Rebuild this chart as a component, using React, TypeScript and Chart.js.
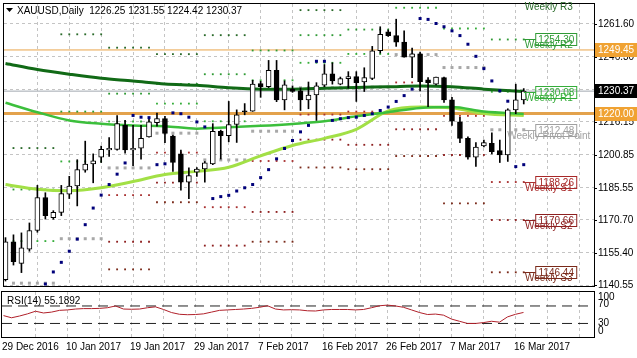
import React, { useEffect, useRef } from 'react';
import { Chart, registerables } from 'chart.js';

Chart.register(...registerables);

const FONT = '10px "Liberation Sans", Arial, sans-serif';

// ---------------- data ----------------
const symbolTitle = 'XAUUSD,Daily';

const opens = [
  1143.0, 1160.6, 1150.6, 1157.1, 1165.8, 1181.1, 1171.7, 1174.2, 1182.6, 1186.4,
  1193.7, 1196.6, 1199.8, 1203.1, 1203.4, 1214.5, 1203.1, 1203.9, 1209.2, 1215.8,
  1217.6, 1209.5, 1201.3, 1188.2, 1192.8, 1194.3, 1196.7, 1211.8, 1209.7, 1214.9,
  1221.0, 1221.1, 1233.9, 1232.4, 1240.0, 1226.3, 1231.3, 1230.5, 1226.3, 1228.6,
  1233.1, 1238.4, 1233.6, 1236.2, 1237.1, 1234.6, 1236.3, 1249.1, 1257.9, 1256.1,
  1253.1, 1246.1, 1247.6, 1235.6, 1233.6, 1236.6, 1226.3, 1216.1, 1208.5, 1199.8,
  1205.0, 1206.2, 1202.8, 1200.8, 1221.7, 1226.25,
];
const highs = [
  1162.5, 1163.8, 1164.7, 1169.3, 1186.7, 1183.3, 1175.0, 1186.7, 1190.9, 1198.6,
  1207.2, 1201.3, 1204.9, 1208.9, 1219.1, 1216.8, 1214.5, 1214.5, 1218.1, 1220.2,
  1218.7, 1210.0, 1203.1, 1194.8, 1194.9, 1197.8, 1215.3, 1212.3, 1225.6, 1221.7,
  1224.6, 1235.4, 1234.9, 1244.6, 1244.6, 1235.1, 1232.8, 1231.8, 1234.6, 1234.3,
  1242.7, 1243.5, 1236.9, 1239.4, 1239.4, 1241.2, 1251.1, 1260.2, 1258.7, 1263.7,
  1258.3, 1250.3, 1248.5, 1236.6, 1236.9, 1236.9, 1227.5, 1218.2, 1209.2, 1206.5,
  1207.7, 1211.0, 1207.7, 1222.2, 1233.6, 1231.55,
];
const lows = [
  1142.4, 1149.8, 1146.3, 1156.2, 1165.0, 1171.1, 1171.0, 1172.7, 1180.6, 1177.2,
  1192.8, 1187.9, 1197.3, 1200.1, 1203.0, 1201.6, 1195.8, 1198.9, 1209.0, 1214.1,
  1206.5, 1193.2, 1184.5, 1180.6, 1190.9, 1188.2, 1196.3, 1198.9, 1206.9, 1206.6,
  1219.4, 1221.0, 1227.5, 1232.0, 1225.5, 1221.7, 1229.8, 1221.4, 1222.2, 1216.8,
  1232.4, 1233.6, 1233.3, 1231.8, 1225.6, 1230.2, 1235.7, 1248.0, 1255.7, 1251.1,
  1246.1, 1236.6, 1230.5, 1223.2, 1233.3, 1225.2, 1214.5, 1206.5, 1198.9, 1195.5,
  1204.5, 1201.3, 1197.3, 1197.8, 1219.9, 1224.42,
];
const closes = [
  1160.6, 1151.4, 1157.8, 1165.8, 1181.1, 1172.7, 1174.2, 1182.9, 1186.4, 1194.0,
  1196.6, 1198.1, 1203.4, 1203.9, 1215.3, 1203.1, 1203.9, 1208.5, 1216.1, 1217.6,
  1210.8, 1197.3, 1188.2, 1191.2, 1194.3, 1197.1, 1211.8, 1209.7, 1214.9, 1219.4,
  1220.8, 1233.6, 1232.4, 1240.0, 1226.3, 1233.3, 1230.2, 1226.3, 1228.6, 1232.8,
  1238.4, 1235.1, 1236.2, 1237.1, 1234.3, 1236.6, 1249.1, 1256.7, 1256.1, 1253.1,
  1246.1, 1247.6, 1234.8, 1234.3, 1236.9, 1226.3, 1216.5, 1208.5, 1199.8, 1204.4,
  1206.5, 1202.3, 1200.8, 1221.7, 1226.3, 1230.37,
];

// Parabolic SAR (null = not visible)
const sarValues = [
  null, null, null, null, null, 1141.0, 1146.6, 1151.05, 1156.2, 1161.8,
  1168.5, 1176.2, 1182.2, 1187.1, 1191.9, 1197.1, 1219.1, 1218.3, 1218.1, 1196.3,
  1196.7, 1220.3, 1219.9, 1218.3, 1216.1, 1213.8, 1180.6, 1181.5, 1182.1, 1184.1,
  1185.6, 1187.1, 1190.3, 1194.0, 1199.0, 1203.8, 1207.5, 1211.5, 1214.5, 1244.2,
  1244.2, 1216.8, 1217.6, 1218.1, 1218.3, 1219.1, 1219.9, 1221.4, 1223.0, 1225.6,
  1228.3, 1231.3, 1264.0, 1263.6, 1261.7, 1260.2, 1258.3, 1256.1, 1252.1, 1246.5,
  1240.8, 1235.1, 1230.5, 1225.7, 1195.4, 1196.3,
];

// RSI(14)
const rsiValues = [
  48, 43, 47, 52, 58, 54, 56, 60, 61, 63,
  64, 64, 64.5, 66, 70, 63, 62.5, 63, 66, 68,
  62, 55, 51, 50, 50.5, 52, 56, 60, 61, 62,
  63, 64.5, 67, 70.5, 63, 61, 61.5, 61, 59, 58.5,
  61, 62, 62, 62, 61, 62, 66, 70.5, 72, 70,
  67, 61, 55, 50.5, 51.5, 49, 40, 35, 30, 30,
  32, 35, 33, 45, 51, 55.1892,
];
const rsiLast = 55.1892;

// moving averages (read at these bars)
const maBars = [0, 4, 8, 12, 16, 20, 24, 28, 32, 36, 40, 44, 48, 52, 56, 60, 65];
const maSlow = [1243.2, 1240.4, 1238.2, 1236.3, 1235.1, 1233.7, 1233.1, 1231.9, 1231.3, 1231.3, 1231.7, 1232.1, 1232.4, 1232.8, 1232.4, 1231.3, 1230.2];
const maMid = [1225.0, 1220.6, 1216.8, 1215.3, 1214.5, 1214.1, 1213.0, 1213.6, 1214.3, 1215.2, 1216.4, 1218.7, 1220.6, 1222.6, 1223.0, 1220.9, 1219.8];
const maFast = [1187.1, 1184.9, 1184.2, 1185.6, 1188.5, 1191.7, 1193.2, 1195.1, 1200.4, 1205.2, 1208.5, 1212.7, 1221.2, 1223.0, 1222.6, 1220.0, 1219.1];

// weekly pivot levels
const weekStart = [1, 7, 13, 19, 25, 31, 37, 43, 49, 55, 61];
const weekEnd = [6, 12, 18, 24, 30, 36, 42, 48, 54, 60, 65];
const pivotR3 = [1204.0, 1256.7, 1250.5, 1247.5, 1256.3, 1272.8, 1267.9, 1274.3, 1303.6, 1299.9, 1271.92];
const pivotR2 = [1184.8, 1220.9, 1229.2, 1233.7, 1238.2, 1249.2, 1256.3, 1258.9, 1281.9, 1281.8, 1254.30];
const pivotR1 = [1160.9, 1197.8, 1216.3, 1224.6, 1216.4, 1235.4, 1243.5, 1247.6, 1269.0, 1259.4, 1230.08];
const pivotP = [1141.4, 1162.0, 1194.8, 1210.9, 1198.5, 1211.8, 1231.9, 1232.2, 1247.3, 1241.3, 1212.48];
const pivotS1 = [1117.3, 1138.9, 1182.2, 1201.9, 1176.6, 1198.0, 1219.5, 1220.9, 1234.4, 1218.9, 1188.26];
const pivotS2 = [1097.9, 1103.1, 1160.6, 1188.0, 1158.8, 1174.4, 1207.9, 1205.5, 1212.7, 1200.8, 1170.66];
const pivotS3 = [1079.0, 1067.0, 1147.8, 1178.9, 1137.0, 1160.6, 1195.0, 1194.2, 1200.3, 1178.4, 1146.44];
const pivotNames = ['Weekly R3', 'Weekly R2', 'Weekly R1', 'Weekly Pivot Point', 'Weekly S1', 'Weekly S2', 'Weekly S3'];

// horizontal lines
const hLevels = [1249.45, 1220.0];
const bidPrice = 1230.37;

// axis ticks / labels
const priceTicks = [1261.6, 1246.3, 1231.3, 1216.15, 1200.85, 1185.55, 1170.7, 1155.4, 1140.55];
const dateBars = [0, 8, 16, 24, 32, 40, 48, 56, 64];
const dateLabels = ['29 Dec 2016', '10 Jan 2017', '19 Jan 2017', '29 Jan 2017', '7 Feb 2017', '16 Feb 2017', '26 Feb 2017', '7 Mar 2017', '16 Mar 2017'];
const rsiLevels = [70, 30];
const rsiAxisTicks = [100, 70, 30, 0];

// ---------------- layout ----------------
const X_MIN = -0.1875;
const X_MAX = 73.8125;
const Y_MIN = 1140.09;
const Y_MAX = 1270.74;
const GRID_BARS = Array.from({ length: 18 }, (_, k) => 4 * (k + 1));
const GRID_COLOR = '#c4c4c4';
const RSI_LABEL_SHIFT = [4, -1.5, 0, -5.5];

const levelStyles = [
  { color: '#2a6a2a', text: '#2a6a2a', r: 1.3 },
  { color: '#2f9a35', text: '#2f9a35', r: 1.3 },
  { color: '#35ad3a', text: '#35ad3a', r: 1.3 },
  { color: '#a8a8a8', text: '#a0a0a0', r: 2.12 },
  { color: '#a83030', text: '#a82828', r: 1.3 },
  { color: '#8e2020', text: '#8e2020', r: 1.3 },
  { color: '#7a2a1a', text: '#7a2a1a', r: 1.3 },
];
const pivotLevels = [pivotR3, pivotR2, pivotR1, pivotP, pivotS1, pivotS2, pivotS3];

function weekPoints(levels: number[]) {
  const pts: { x: number; y: number }[] = [];
  levels.forEach((v, w) => {
    for (let b = weekStart[w]; b <= weekEnd[w]; b++) pts.push({ x: b, y: v });
  });
  return pts;
}

function xScaleOpts() {
  return {
    type: 'linear',
    min: X_MIN,
    max: X_MAX,
    offset: false,
    position: 'bottom',
    afterBuildTicks: (s: any) => {
      s.ticks = GRID_BARS.map((v) => ({ value: v }));
    },
    afterFit: (s: any) => {
      s.height = 0;
    },
    ticks: { display: false },
    grid: { color: GRID_COLOR, lineWidth: 1, drawTicks: false, offset: false },
    border: { display: false, dash: [3, 3] },
  };
}

function mainConfig(): any {
  const idx = closes.map((_, i) => i);
  const hLine = (v: number, color: string, w: number) => ({
    type: 'line',
    data: [{ x: X_MIN, y: v }, { x: X_MAX, y: v }],
    borderColor: color,
    borderWidth: w,
    pointRadius: 0,
    order: 6,
    clip: 0,
  });
  const maLine = (vals: number[], color: string, w: number) => ({
    type: 'line',
    data: maBars.map((b, i) => ({ x: b, y: vals[i] })),
    borderColor: color,
    borderWidth: w,
    pointRadius: 0,
    cubicInterpolationMode: 'monotone',
    order: 3,
    clip: 0,
  });
  const datasets: any[] = [
    {
      type: 'line',
      data: sarValues.map((v, i) => (v === null ? null : { x: i, y: v })).filter(Boolean),
      showLine: false,
      pointStyle: 'rect',
      pointRadius: 2.12,
      pointBackgroundColor: '#00007a',
      pointBorderWidth: 0,
      order: 0,
      clip: 0,
    },
    {
      type: 'bar',
      data: idx.map((i) => ({ x: i, y: [opens[i], closes[i]] })),
      backgroundColor: idx.map((i) => (closes[i] >= opens[i] ? '#ffffff' : '#000000')),
      borderColor: '#000000',
      borderWidth: 1,
      borderSkipped: false,
      grouped: false,
      maxBarThickness: 5,
      minBarLength: 1,
      categoryPercentage: 1,
      barPercentage: 1,
      order: 1,
    },
    {
      type: 'bar',
      data: idx.map((i) => ({ x: i, y: [lows[i], highs[i]] })),
      backgroundColor: '#000000',
      borderWidth: 0,
      grouped: false,
      maxBarThickness: 1,
      categoryPercentage: 1,
      barPercentage: 1,
      order: 2,
    },
    maLine(maSlow, '#116a16', 3),
    maLine(maMid, '#3cbf3c', 2.5),
    maLine(maFast, '#a2e046', 3),
    ...pivotLevels.map((lv, k) => ({
      type: 'line',
      data: weekPoints(lv),
      showLine: false,
      pointStyle: 'rect',
      pointRadius: levelStyles[k].r,
      pointBackgroundColor: levelStyles[k].color,
      pointBorderWidth: 0,
      order: 4,
      clip: 0,
    })),
    hLine(hLevels[0], '#e9a449', 1),
    hLine(hLevels[1], '#e3a24c', 3),
    hLine(bidPrice, '#a2a8b0', 1),
  ];

  return {
    type: 'bar',
    data: { datasets },
    options: {
      responsive: false,
      animation: false,
      events: [],
      layout: { padding: { left: 2, top: 2, right: 0, bottom: 2 } },
      plugins: { legend: { display: false }, tooltip: { enabled: false } },
      scales: {
        x: xScaleOpts(),
        y: {
          type: 'linear',
          position: 'right',
          min: Y_MIN,
          max: Y_MAX,
          afterBuildTicks: (s: any) => {
            s.ticks = priceTicks.map((v) => ({ value: v }));
          },
          afterFit: (s: any) => {
            s.width = 43;
          },
          ticks: { display: false },
          grid: { color: GRID_COLOR, lineWidth: 1, drawTicks: false },
          border: { display: false, dash: [3, 3] },
        },
      },
    },
    plugins: [mainOverlay],
  };
}

const mainOverlay = {
  id: 'mainOverlay',
  afterDraw(chart: any) {
    const { ctx, chartArea: a } = chart;
    const xs = chart.scales.x;
    const ys = chart.scales.y;
    ctx.save();
    ctx.lineWidth = 1;
    ctx.strokeStyle = '#000';
    ctx.strokeRect(a.left - 0.5, a.top - 0.5, a.right - a.left + 1, a.bottom - a.top + 1);

    ctx.font = FONT;
    ctx.textAlign = 'left';
    ctx.textBaseline = 'middle';
    ctx.fillStyle = '#000';
    priceTicks.forEach((v) => {
      const py = Math.round(ys.getPixelForValue(v)) + 0.5;
      ctx.beginPath();
      ctx.moveTo(a.right, py);
      ctx.lineTo(a.right + 3, py);
      ctx.stroke();
      ctx.fillText(v.toFixed(2), a.right + 4, py);
    });
    const tag = (v: number, bg: string) => {
      const py = Math.round(ys.getPixelForValue(v));
      ctx.fillStyle = bg;
      ctx.fillRect(a.right + 1, py - 7, 42, 14);
      ctx.fillStyle = '#fff';
      ctx.fillText(v.toFixed(2), a.right + 4, py + 0.5);
    };
    hLevels.forEach((v) => tag(v, '#f0a232'));
    tag(bidPrice, '#000');

    // header
    ctx.fillStyle = '#000';
    ctx.beginPath();
    ctx.moveTo(6, 8);
    ctx.lineTo(13, 8);
    ctx.lineTo(9.5, 12);
    ctx.closePath();
    ctx.fill();
    const last = closes.length - 1;
    ctx.fillText(
      `${symbolTitle}  ${opens[last].toFixed(2)} ${highs[last].toFixed(2)} ${lows[last].toFixed(2)} ${closes[last].toFixed(2)}`,
      17,
      11
    );

    // current weekly pivot labels
    const xe = xs.getPixelForValue(last);
    pivotLevels.forEach((lv, k) => {
      const v = lv[lv.length - 1];
      const st = levelStyles[k];
      const py = Math.round(ys.getPixelForValue(v)) + 0.5;
      if (py >= a.top) {
        ctx.strokeStyle = st.color;
        ctx.beginPath();
        ctx.moveTo(xe, py);
        ctx.lineTo(xe + 12, py);
        ctx.stroke();
      }
      ctx.fillStyle = st.text;
      ctx.textAlign = 'center';
      ctx.textBaseline = 'top';
      ctx.fillText(pivotNames[k], xe + 25, py + 0.5);
      if (py - 6 >= a.top) {
        ctx.strokeStyle = st.text;
        ctx.strokeRect(xe + 12, py - 6, 41, 12);
        ctx.textBaseline = 'middle';
        ctx.fillText(v.toFixed(2), xe + 32.5, py + 0.5);
      }
    });
    ctx.restore();
  },
};

function rsiConfig(): any {
  const datasets: any[] = [
    {
      type: 'line',
      data: rsiValues.map((v, i) => ({ x: i, y: v })),
      borderColor: '#b0202a',
      borderWidth: 1,
      pointRadius: 0,
      tension: 0,
      order: 0,
    },
    ...rsiLevels.map((v) => ({
      type: 'line',
      data: [{ x: X_MIN, y: v }, { x: X_MAX, y: v }],
      borderColor: '#222',
      borderWidth: 1,
      borderDash: [10, 6],
      pointRadius: 0,
      order: 1,
      clip: 0,
    })),
  ];
  return {
    type: 'line',
    data: { datasets },
    options: {
      responsive: false,
      animation: false,
      events: [],
      layout: { padding: { left: 2, top: 1, right: 0, bottom: 21 } },
      plugins: { legend: { display: false }, tooltip: { enabled: false } },
      scales: {
        x: xScaleOpts(),
        y: {
          type: 'linear',
          position: 'right',
          min: -1,
          max: 102,
          afterFit: (s: any) => {
            s.width = 43;
          },
          ticks: { display: false },
          grid: { display: false, drawTicks: false },
          border: { display: false },
        },
      },
    },
    plugins: [rsiOverlay],
  };
}

const rsiOverlay = {
  id: 'rsiOverlay',
  afterDraw(chart: any) {
    const { ctx, chartArea: a } = chart;
    const xs = chart.scales.x;
    const ys = chart.scales.y;
    ctx.save();
    ctx.lineWidth = 1;
    ctx.strokeStyle = '#000';
    ctx.strokeRect(a.left - 0.5, a.top - 0.5, a.right - a.left + 1, a.bottom - a.top + 1);
    ctx.font = FONT;
    ctx.fillStyle = '#000';
    ctx.textAlign = 'left';
    ctx.textBaseline = 'middle';
    ctx.fillText(`RSI(14) ${rsiLast.toFixed(4)}`, 7, a.top + 9);
    rsiAxisTicks.forEach((v, i) => {
      ctx.fillText(String(v), a.right + 4, ys.getPixelForValue(v) + RSI_LABEL_SHIFT[i]);
    });
    dateBars.forEach((b, i) => {
      const px = xs.getPixelForValue(b);
      ctx.fillText(dateLabels[i], px - 1.5, a.bottom + 10);
    });
    ctx.restore();
  },
};

export default function App() {
  const mainRef = useRef<HTMLCanvasElement>(null);
  const rsiRef = useRef<HTMLCanvasElement>(null);
  useEffect(() => {
    const main = new Chart(mainRef.current as HTMLCanvasElement, mainConfig());
    const rsi = new Chart(rsiRef.current as HTMLCanvasElement, rsiConfig());
    return () => {
      main.destroy();
      rsi.destroy();
    };
  }, []);
  return (
    <div style={{ position: 'absolute', left: 0, top: 0, width: 637, height: 358, background: '#fff' }}>
      <canvas ref={mainRef} width={637} height={290} style={{ position: 'absolute', left: 0, top: 0 }} />
      <canvas ref={rsiRef} width={637} height={67} style={{ position: 'absolute', left: 0, top: 291 }} />
    </div>
  );
}
